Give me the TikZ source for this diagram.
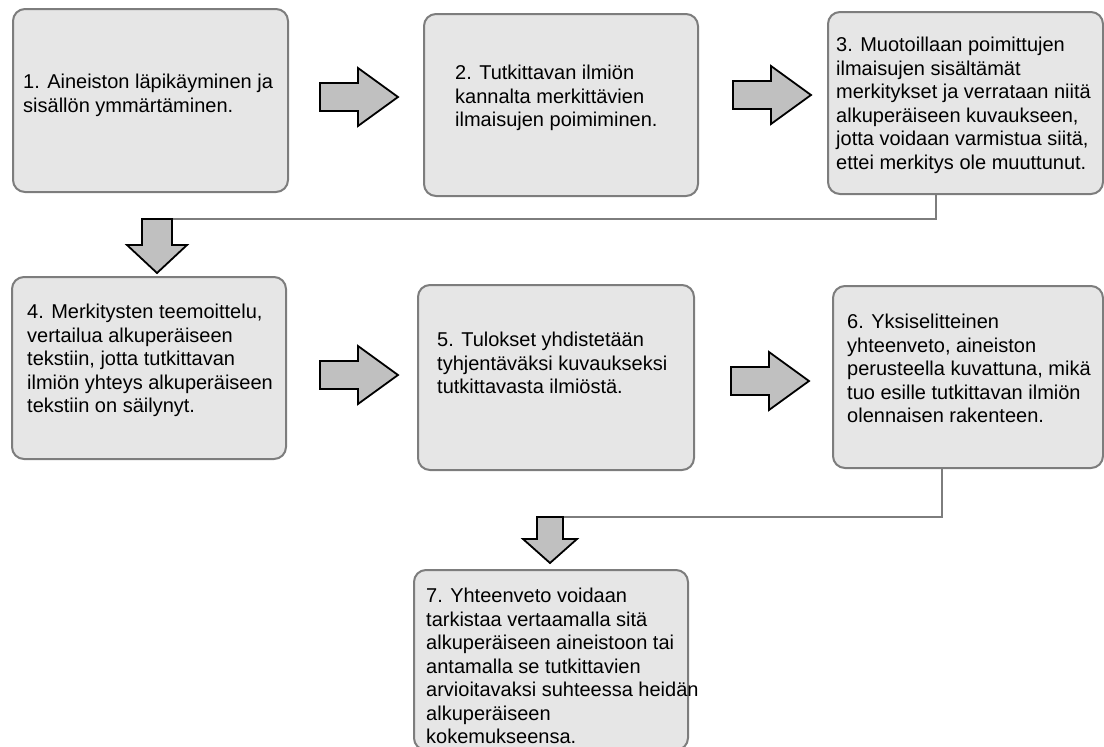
\documentclass[tikz,border=0pt]{standalone}
\usepackage{fontspec}
\setmainfont{Liberation Sans}
\definecolor{boxfill}{RGB}{230,230,230}
\definecolor{boxline}{RGB}{125,125,125}
\definecolor{arrowfill}{RGB}{192,192,192}
\begin{document}
\begin{tikzpicture}[x=1pt,y=-1pt,
  stepbox/.style={draw=boxline, fill=boxfill, line width=2pt, rounded corners=12pt, inner sep=0pt, anchor=north west},
  txt/.style={inner sep=0pt, anchor=north west, align=left, font=\fontsize{20}{23.5}\selectfont},
  conn/.style={draw=boxline, line width=2pt},
  blockarrow/.style={draw=black, fill=arrowfill, line width=1.8pt, line join=miter},
  pics/rightarrow/.style={code={
    \path[blockarrow] (0,-14) -- (38,-14) -- (38,-29) -- (78,0) -- (38,29) -- (38,14) -- (0,14) -- cycle;}},
  pics/downarrow/.style={code={
    \path[blockarrow] (0,0) -- (30,0) -- (30,26) -- (45,26) -- (15,54) -- (-15,26) -- (0,26) -- cycle;}},
  pics/downarrowb/.style={code={
    \path[blockarrow] (0,0) -- (26,0) -- (26,22) -- (40,22) -- (13,46) -- (-14,22) -- (0,22) -- cycle;}}
]
\useasboundingbox (0,0) rectangle (1104,747);

% boxes
\node[stepbox, minimum width=275pt, minimum height=183pt] (b1) at (12,8) {};
\node[stepbox, minimum width=274pt, minimum height=182pt] (b2) at (423,13) {};
\node[stepbox, minimum width=275pt, minimum height=182pt] (b3) at (827,11) {};
\node[stepbox, minimum width=274pt, minimum height=182pt] (b4) at (11,276) {};
\node[stepbox, minimum width=276pt, minimum height=185pt] (b5) at (417,284) {};
\node[stepbox, minimum width=270pt, minimum height=182pt] (b6) at (832,285) {};
\node[stepbox, minimum width=274pt, minimum height=180pt] (b7) at (413,569) {};

% texts
\node[txt] (t1) at (23,74) {1. Aineiston läpikäyminen ja\\sisällön ymmärtäminen.};
\node[txt] (t2) at (455,65) {2. Tutkittavan ilmiön\\kannalta merkittävien\\ilmaisujen poimiminen.};
\node[txt] (t3) at (836,37) {3. Muotoillaan poimittujen\\ilmaisujen sisältämät\\merkitykset ja verrataan niitä\\alkuperäiseen kuvaukseen,\\jotta voidaan varmistua siitä,\\ettei merkitys ole muuttunut.};
\node[txt] (t4) at (27,304) {4. Merkitysten teemoittelu,\\vertailua alkuperäiseen\\tekstiin, jotta tutkittavan\\ilmiön yhteys alkuperäiseen\\tekstiin on säilynyt.};
\node[txt] (t5) at (437,332) {5. Tulokset yhdistetään\\tyhjentäväksi kuvaukseksi\\tutkittavasta ilmiöstä.};
\node[txt] (t6) at (847,314) {6. Yksiselitteinen\\yhteenveto, aineiston\\perusteella kuvattuna, mikä\\tuo esille tutkittavan ilmiön\\olennaisen rakenteen.};
\node[txt] (t7) at (426,588) {7. Yhteenveto voidaan\\tarkistaa vertaamalla sitä\\alkuperäiseen aineistoon tai\\antamalla se tutkittavien\\arvioitavaksi suhteessa heidän\\alkuperäiseen\\kokemukseensa.};

% elbow connectors
\coordinate (c3) at (936,219);
\coordinate (v1) at (142,219);
\coordinate (c6) at (942,517);
\coordinate (v2) at (537,517);
\draw[conn] (b3.south -| c3) -- (c3) -- (v1);
\draw[conn] (b6.south -| c6) -- (c6) -- (v2);

% block arrows
\pic at (320,97) {rightarrow};
\pic at (733,95) {rightarrow};
\pic at (320,375) {rightarrow};
\pic at (731,381) {rightarrow};
\pic at (v1) {downarrow};
\pic at (v2) {downarrowb};
\end{tikzpicture}
\end{document}
